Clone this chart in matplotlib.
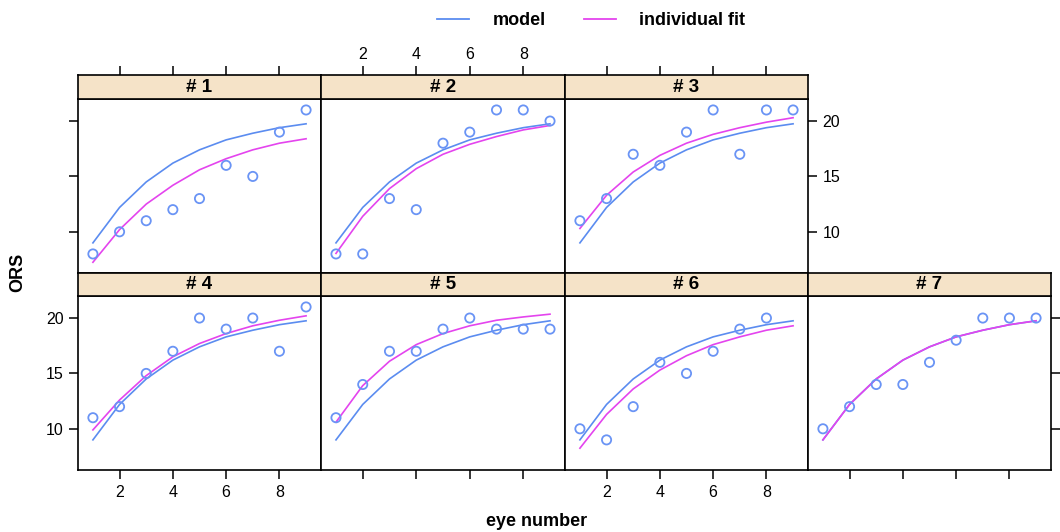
import numpy as np
import matplotlib.pyplot as plt
from matplotlib.lines import Line2D

plt.rcParams['font.family'] = ['Liberation Sans', 'DejaVu Sans']

# eye number 1..9
eye = [1, 2, 3, 4, 5, 6, 7, 8, 9]

# observed ORS per subject (panel)
ors_1 = [8, 10, 11, 12, 13, 16, 15, 19, 21]
ors_2 = [8, 8, 13, 12, 18, 19, 21, 21, 20]
ors_3 = [11, 13, 17, 16, 19, 21, 17, 21, 21]
ors_4 = [11, 12, 15, 17, 20, 19, 20, 17, 21]
ors_5 = [11, 14, 17, 17, 19, 20, 19, 19, 19]
ors_6 = [10, 9, 12, 16, 15, 17, 19, 20, np.nan]
ors_7 = [10, 12, 14, 14, 16, 18, 20, 20, 20]

# population model curve (same in every panel)
model = [9.0, 12.2, 14.5, 16.2, 17.4, 18.3, 18.9, 19.4, 19.75]

# individual fits
fit_1 = [7.25, 10.2, 12.5, 14.2, 15.6, 16.6, 17.4, 18.0, 18.4]
fit_2 = [8.05, 11.4, 13.9, 15.7, 17.0, 17.9, 18.6, 19.2, 19.6]
fit_3 = [10.3, 13.3, 15.4, 16.9, 18.0, 18.8, 19.4, 19.9, 20.3]
fit_4 = [9.9, 12.6, 14.8, 16.5, 17.7, 18.6, 19.3, 19.8, 20.2]
fit_5 = [10.6, 13.9, 16.1, 17.6, 18.6, 19.3, 19.8, 20.1, 20.35]
fit_6 = [8.25, 11.3, 13.6, 15.3, 16.6, 17.6, 18.3, 18.9, 19.3]
fit_7 = [9.0, 12.2, 14.5, 16.2, 17.4, 18.3, 18.9, 19.4, 19.75]

titles = ["# 1", "# 2", "# 3", "# 4", "# 5", "# 6", "# 7"]
obs = [ors_1, ors_2, ors_3, ors_4, ors_5, ors_6, ors_7]
fits = [fit_1, fit_2, fit_3, fit_4, fit_5, fit_6, fit_7]

xticks = [2, 4, 6, 8]
yticks = [10, 15, 20]

BLUE = "#5b8cf0"
MAGENTA = "#e444ee"
PTS = "#6a94f5"
STRIP = "#f5e3c8"

W, H = 1060, 532
fig = plt.figure(figsize=(W / 100, H / 100), dpi=100)

cols = [78, 321, 565, 808, 1051]
rows = [(75, 99, 273), (273, 296, 470)]  # strip top, panel top, panel bottom


def fx(px):
    return px / W


def fy(py):
    return 1 - py / H


for i in range(7):
    r, c = divmod(i, 3) if i < 3 else (1, i - 3)
    st, pt, pb = rows[r]
    x0, x1 = cols[c], cols[c + 1]
    ax = fig.add_axes([fx(x0), fy(pb), fx(x1 - x0), (pb - pt) / H])
    sax = fig.add_axes([fx(x0), fy(pt), fx(x1 - x0), (pt - st) / H])
    sax.set_facecolor(STRIP)
    sax.set_xticks([])
    sax.set_yticks([])
    sax.text(0.5, 0.5, titles[i], ha="center", va="center", fontsize=13.5,
             fontweight="bold", transform=sax.transAxes)
    for s in sax.spines.values():
        s.set_linewidth(1.2)

    ax.plot(eye, model, color=BLUE, lw=1.2)
    ax.plot(eye, fits[i], color=MAGENTA, lw=1.2)
    ax.scatter(eye, obs[i], s=44, facecolors="none", edgecolors=PTS, linewidths=1.3, zorder=3)
    ax.set_xlim(0.44, 9.56)
    ax.set_ylim(6.28, 21.99)
    for s in ax.spines.values():
        s.set_linewidth(1.2)

    ax.set_xticks(xticks)
    ax.set_yticks(yticks)
    ax.tick_params(direction="out", length=6.5, width=1.1, labelsize=11.5, pad=4)

    # lattice-style alternating axes
    ax.tick_params(bottom=(r == 1), labelbottom=(r == 1 and c in (0, 2)),
                   left=(c == 0), labelleft=(r == 1 and c == 0),
                   right=(c == 3 or (r == 0 and c == 2)),
                   labelright=(r == 0 and c == 2),
                   top=False, labeltop=False)

    if r == 0:
        # top axis drawn above the strip
        tax = sax.twiny()
        tax.set_xlim(0.44, 9.56)
        tax.set_xticks(xticks)
        tax.tick_params(direction="out", length=6.5, width=1.1, labelsize=11.5,
                        pad=3, labeltop=(c == 1))
        for s in tax.spines.values():
            s.set_visible(False)

fig.text(fx(18), fy(272), "ORS", rotation=90, ha="center", va="center",
         fontsize=13, fontweight="bold")
fig.text(fx(537), fy(521), "eye number", ha="center", va="center",
         fontsize=13, fontweight="bold")

handles = [Line2D([], [], color=BLUE, lw=1.3), Line2D([], [], color=MAGENTA, lw=1.3)]
fig.legend(handles, ["model", "individual fit"], loc="center", ncol=2,
           bbox_to_anchor=(fx(591), fy(21)), frameon=False, handlelength=1.8,
           handletextpad=1.3, columnspacing=2.1,
           prop={"weight": "bold", "size": 13})

fig.savefig("out.png", dpi=100)
